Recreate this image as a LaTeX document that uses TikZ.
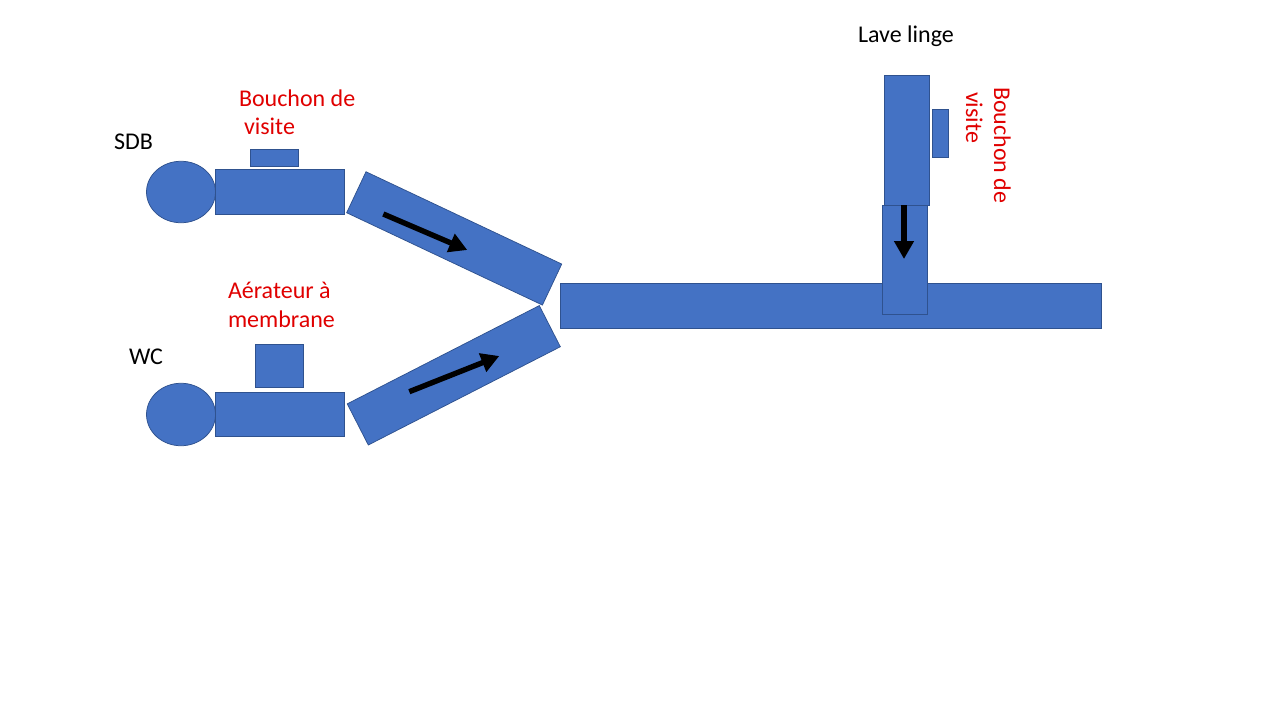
\documentclass[tikz,border=0pt]{standalone}
\usepackage{fontspec}
\setmainfont{Carlito}
\usetikzlibrary{arrows.meta,shapes.geometric}
\definecolor{pipefill}{HTML}{4472C4}
\definecolor{pipeline}{HTML}{2F528F}
\definecolor{labelred}{HTML}{E00000}
\tikzset{
  pipe/.style={draw=pipeline,fill=pipefill,line width=0.75pt,inner sep=0pt,outer sep=0pt,rectangle},
  bulb/.style={draw=pipeline,fill=pipefill,line width=0.75pt,inner sep=0pt,outer sep=0pt,ellipse,minimum width=69pt,minimum height=61.5pt},
  txt/.style={inner sep=0pt,outer sep=0pt,font=\fontsize{24pt}{28pt}\selectfont,anchor=base west},
  red label/.style={txt,text=labelred},
  flow/.style={-{Triangle[length=18pt,width=19pt]},line width=5.4pt,black}
}
\newcommand{\boxat}[5]{\node[pipe,minimum width={#4-#2},minimum height={#5-#3}] (#1) at ({(#2+#4)/2},{(#3+#5)/2}) {};}
\begin{document}
\begin{tikzpicture}[x=1pt,y=-1pt]
\useasboundingbox (0,0) rectangle (1280,720);
\node[bulb] (bulbA) at (181,192) {};
\node[bulb,minimum height=62.5pt] (bulbB) at (181,414.5) {};
\boxat{pipeA}{215}{169}{344.5}{214.5}
\boxat{pipeB}{215}{392}{344.5}{436.5}
\boxat{capA}{250}{149}{298.5}{166.5}
\boxat{aerator}{255}{344}{303.5}{387.5}
\node[pipe,minimum width=216.4pt,minimum height=45.3pt,rotate=-25.25] (slantA) at (454.2,238.4) {};
\node[pipe,minimum width=215.7pt,minimum height=46.2pt,rotate=27.1] (slantB) at (453.8,375.3) {};
\boxat{main}{560.5}{283.5}{1101.5}{328.5}
\boxat{washUp}{884}{75}{929.5}{205}
\boxat{washDown}{882}{205}{927.5}{314.5}
\boxat{capB}{932}{109}{948.5}{157.5}
\coordinate (a1) at (383.3,214);
\coordinate (a2) at (467.3,250);
\coordinate (b1) at (409.3,391.7);
\coordinate (b2) at (499.3,356);
\coordinate (c1) at (904,205);
\coordinate (c2) at (904,259);
\draw[flow] (a1) -- (a2);
\draw[flow] (b1) -- (b2);
\draw[flow] (c1) -- (c2);
\node[txt] (sdb) at (114,149) {SDB};
\node[txt] (wc) at (129,364) {WC};
\node[txt] (lave) at (858,42.5) {Lave linge};
\node[red label] (t1) at (239,106) {Bouchon de};
\node[red label] (t2) at (244,134) {visite};
\node[red label] (t3) at (228,298) {Aérateur à};
\node[red label] (t4) at (228,327) {membrane};
\node[red label,rotate=-90] (t5) at (994,87) {Bouchon de};
\node[red label,rotate=-90] (t6) at (966,92) {visite};
\end{tikzpicture}
\end{document}
